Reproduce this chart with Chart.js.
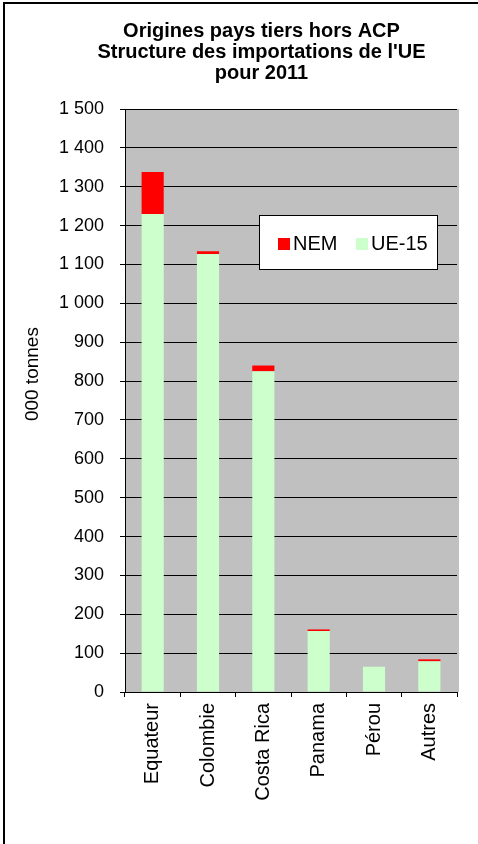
<!DOCTYPE html>
<html>
<head>
<meta charset="utf-8">
<script src="https://cdn.jsdelivr.net/npm/chart.js@4/dist/chart.umd.min.js"></script>
<style>
  body { margin: 0; background: #fff; }
</style>
</head>
<body>
<canvas id="myChart" width="478" height="844"></canvas>
<script>
// Origines pays tiers hors ACP - importations UE 2011 (000 tonnes)
const countries = ['Equateur', 'Colombie', 'Costa Rica', 'Panama', 'Pérou', 'Autres'];
const ue15 = [1230, 1127, 825, 157, 65, 79];
const nem = [108, 7, 15, 4, 0, 5];
const titleLines = ['Origines pays tiers hors ACP', "Structure des importations de l'UE", 'pour 2011'];
const yTitle = '000 tonnes';

const font = "'Liberation Sans', Arial, sans-serif";

// white background, frame, grey plot area, title shift
const framePlugin = {
  id: 'frame',
  beforeDraw(chart) {
    const ctx = chart.ctx;
    const a = chart.chartArea;
    ctx.save();
    ctx.fillStyle = '#fff';
    ctx.fillRect(0, 0, chart.width, chart.height);
    ctx.fillStyle = '#000';
    ctx.fillRect(3, 2, 2, chart.height);
    ctx.fillRect(3, 2, chart.width, 2);
    ctx.fillStyle = '#C0C0C0';
    ctx.fillRect(a.left, a.top, a.right - a.left + 2, a.bottom - a.top);
    ctx.restore();
  },
  afterLayout(chart) {
    // title is centred a bit right of the canvas middle
    if (chart.titleBlock) {
      chart.titleBlock.left = 66;
    }
  }
};

// legend box drawn inside the plot area
const legendBox = {
  id: 'legendBox',
  afterDraw(chart) {
    const ctx = chart.ctx;
    ctx.save();
    ctx.fillStyle = '#fff';
    ctx.fillRect(259, 215, 178, 54);
    ctx.strokeStyle = '#000';
    ctx.lineWidth = 1;
    ctx.strokeRect(259.5, 215.5, 178, 54);
    ctx.font = '20px ' + font;
    ctx.textBaseline = 'alphabetic';
    const items = chart.data.datasets.slice().reverse();
    let x = 278;
    items.forEach(ds => {
      ctx.fillStyle = ds.backgroundColor;
      ctx.fillRect(x, 238, 12, 12);
      ctx.fillStyle = '#000';
      ctx.fillText(ds.label, x + 15, 250);
      x += 78;
    });
    ctx.restore();
  }
};

var ctx = document.getElementById('myChart').getContext('2d');

new Chart(ctx, {
  type: 'bar',
  data: {
    labels: countries,
    datasets: [{
      label: 'UE-15',
      data: ue15,
      backgroundColor: '#CCFFCC',
      barPercentage: 0.4,
      categoryPercentage: 1
    }, {
      label: 'NEM',
      data: nem,
      backgroundColor: '#FF0000',
      barPercentage: 0.4,
      categoryPercentage: 1
    }]
  },
  options: {
    responsive: false,
    animation: false,
    devicePixelRatio: 1,
    layout: {
      padding: { left: 5, right: 21, top: 0, bottom: 0 }
    },
    plugins: {
      legend: { display: false },
      tooltip: { enabled: false },
      title: {
        display: true,
        text: titleLines,
        color: '#000',
        font: { family: font, size: 20, weight: 'bold', lineHeight: 1.05 },
        padding: { top: 21, bottom: 25 }
      }
    },
    scales: {
      x: {
        stacked: true,
        grid: {
          display: true,
          drawOnChartArea: false,
          drawTicks: true,
          tickLength: 5,
          color: '#000',
          offset: true
        },
        border: { color: '#000', width: 1 },
        ticks: {
          color: '#000',
          font: { family: font, size: 20 },
          minRotation: 90,
          maxRotation: 90,
          padding: 6
        },
        afterFit: function (scale) {
          scale.height = 152;
        }
      },
      y: {
        stacked: true,
        min: 0,
        max: 1500,
        grid: {
          color: '#000',
          lineWidth: 1,
          tickLength: 5
        },
        border: { color: '#000', width: 1 },
        ticks: {
          stepSize: 100,
          color: '#000',
          padding: 16,
          font: { family: font, size: 18 },
          callback: function (v) {
            return String(v).replace(/\B(?=(\d{3})+(?!\d))/g, ' ');
          }
        },
        title: {
          display: true,
          // leading no-break spaces lift the label a little above the middle
          text: '\u00a0'.repeat(10) + yTitle,
          color: '#000',
          font: { family: font, size: 19 },
          padding: { top: 16, bottom: 0 }
        },
        afterFit: function (scale) {
          scale.width = 120;
        }
      }
    }
  },
  plugins: [framePlugin, legendBox]
});
</script>
</body>
</html>
